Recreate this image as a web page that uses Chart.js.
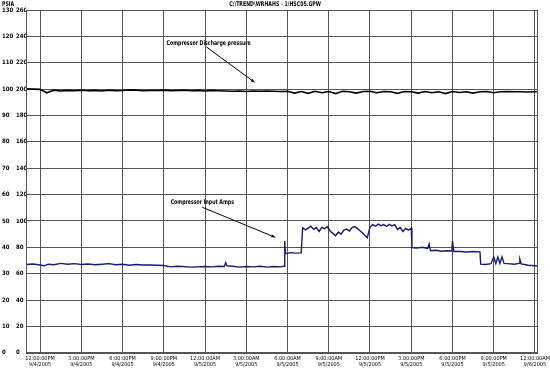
<!DOCTYPE html>
<html>
<head>
<meta charset="utf-8">
<script src="https://cdn.jsdelivr.net/npm/chart.js@4.4.1/dist/chart.umd.min.js"></script>
<style>
  html, body { margin: 0; padding: 0; background: #fff; }
</style>
</head>
<body>
<canvas id="trend" width="550" height="370"></canvas>
<script>
// hours counted from 12:00 PM on 9/4/2005
const tickHours = [0, 3, 6, 9, 12, 15, 18, 21, 24, 27, 30, 33, 36];
const tickTimes = ['12:00:00PM', '3:00:00PM', '6:00:00PM', '9:00:00PM', '12:00:00AM', '3:00:00AM',
  '6:00:00AM', '9:00:00AM', '12:00:00PM', '3:00:00PM', '6:00:00PM', '9:00:00PM', '12:00:00AM'];
const tickDates = ['9/4/2005', '9/4/2005', '9/4/2005', '9/4/2005', '9/5/2005', '9/5/2005',
  '9/5/2005', '9/5/2005', '9/5/2005', '9/5/2005', '9/5/2005', '9/5/2005', '9/6/2005'];

const pressureHours = [-1, -0.5, 0, 0.5, 1, 1.5, 2, 2.5, 3, 3.5, 4, 4.5, 5, 5.5, 6, 6.5, 7, 7.5, 8, 8.5,
  9, 9.5, 10, 10.5, 11, 11.5, 12, 12.5, 13, 13.5, 14, 14.5, 15, 15.5, 16, 16.5, 17, 17.5, 18, 18.5,
  19, 19.5, 20, 20.5, 21, 21.5, 22, 22.5, 23, 23.5, 24, 24.5, 25, 25.5, 26, 26.5, 27, 27.5, 28, 28.5,
  29, 29.5, 30, 30.5, 31, 31.5, 32, 32.5, 33, 33.5, 34, 34.5, 35, 35.5, 36, 36.22];
const pressureValues = [100.1, 100.0, 99.9, 98.6, 99.6, 99.3, 99.5, 99.4, 99.6, 99.4, 99.5, 99.3, 99.6, 99.4, 99.5, 99.7, 99.6, 99.4, 99.5, 99.5,
  99.6, 99.4, 99.5, 99.6, 99.4, 99.5, 99.3, 99.5, 99.4, 99.3, 99.2, 99.3, 99.1, 99.3, 99.2, 99.3, 99.2, 99.1, 99.2, 98.5,
  99.1, 98.4, 99.2, 98.6, 99.1, 98.3, 99.2, 99.0, 98.5, 99.1, 99.2, 98.6, 99.1, 99.0, 98.4, 99.1, 99.0, 98.5, 99.1, 98.6,
  99.0, 98.3, 99.1, 98.7, 99.0, 98.5, 99.0, 99.1, 98.6, 99.0, 99.1, 99.0, 99.0, 98.9, 99.0, 99.0];

const ampsHours = [-1, -0.5, 0, 0.3, 0.6, 1, 1.5, 2, 2.5, 3, 3.5, 4, 4.5, 5, 5.5, 6, 6.5, 7, 7.5, 8,
  9, 9.5, 10, 11, 12, 12.5, 13, 13.4, 13.5, 13.6, 14, 14.5, 15, 15.5, 16, 16.5, 17, 17.5, 17.75,
  17.8, 17.85, 18.2, 18.6, 19.0, 19.1, 19.3, 19.5, 19.7, 19.9, 20.1, 20.3, 20.5, 20.7, 20.9,
  21.1, 21.3, 21.5, 21.7, 21.9, 22.1, 22.3, 22.5, 22.7, 22.9, 23.1, 23.3, 23.5, 23.7, 23.8,
  24.0, 24.2, 24.4, 24.6, 24.8, 25.0, 25.2, 25.4, 25.6, 25.8, 26.0, 26.2, 26.4, 26.6, 26.8, 27.0,
  27.05, 27.4, 27.8, 28.2, 28.3, 28.4, 28.8, 29.2, 29.6, 29.95, 30.0, 30.1, 30.6, 31.0, 31.5, 32.0,
  32.05, 32.4, 32.8, 33.0, 33.15, 33.3, 33.45, 33.6, 33.75, 34.0, 34.5, 34.85, 34.9, 35.0, 35.5, 36.0, 36.22];
const ampsValues = [33.5, 33.7, 33.3, 33.0, 33.6, 33.4, 33.9, 33.6, 33.8, 33.5, 33.7, 33.4, 33.6, 33.8, 33.4, 33.6, 33.2, 33.5, 33.3, 33.3,
  33.1, 32.6, 32.8, 32.5, 32.7, 32.6, 32.8, 32.7, 34.2, 33.0, 32.8, 32.5, 32.7, 32.6, 32.8, 32.5, 32.7, 32.6, 32.8,
  42.4, 37.6, 38.0, 37.8, 37.9, 47.4, 46.6, 47.3, 48.0, 46.8, 47.5, 46.0, 47.6, 47.1, 47.8,
  46.2, 45.3, 44.4, 45.8, 45.0, 46.5, 46.9, 46.2, 47.5, 47.9, 47.1, 46.2, 45.2, 44.2, 43.6,
  47.7, 48.6, 48.0, 48.8, 48.2, 48.6, 47.9, 48.7, 48.1, 48.6, 46.8, 47.5, 46.0, 47.2, 46.5, 47.3,
  39.9, 39.7, 40.0, 39.6, 41.3, 38.7, 38.9, 38.5, 38.7, 38.6, 42.4, 38.4, 38.4, 38.2, 38.4, 38.3,
  33.6, 33.5, 33.8, 36.4, 33.8, 36.3, 33.9, 36.4, 33.9, 33.8, 33.6, 33.9, 35.5, 33.7, 33.2, 33.0, 32.9];

const chartTitle = 'C:\\TREND\\WRHAHS - 1\\HSC05.GPW';
const unitLabel = 'PSIA';

// text callouts, placed in data units (hours, PSIA-scale)
const callouts = [
  { text: 'Compressor Discharge pressure', tx: 9.2, ty: 117.4, from: [12.1, 116.0], to: [15.6, 102.6] },
  { text: 'Compressor Input Amps', tx: 9.5, ty: 57.2, from: [11.8, 55.2], to: [17.1, 43.8] }
];

const FONT = "'Liberation Sans Narrow', 'Arial Narrow', 'DejaVu Sans Condensed', sans-serif";

function toPoints(xs, ys) {
  return xs.map((x, i) => ({ x: x, y: ys[i] }));
}

// narrow text: the original uses a condensed face we do not have
function narrowText(ctx, text, x, y, align) {
  ctx.save();
  ctx.translate(x, y);
  ctx.scale(0.8, 1);
  ctx.textAlign = align;
  ctx.fillText(text, 0, 0);
  ctx.restore();
}

const framePlugin = {
  id: 'frame',
  afterDatasetsDraw(chart) {
    const ctx = chart.ctx;
    const area = chart.chartArea;
    const xs = chart.scales.x;
    const ys = chart.scales.y;
    ctx.save();
    ctx.strokeStyle = '#555';
    ctx.lineWidth = 1;
    ctx.strokeRect(Math.round(area.left) + 0.5, Math.round(area.top) + 0.5,
      Math.round(area.right - area.left) - 1, Math.round(area.bottom - area.top));

    ctx.fillStyle = '#000';
    ctx.font = 'bold 6.5px ' + FONT;
    ctx.textBaseline = 'middle';
    narrowText(ctx, unitLabel, 2, 4, 'left');
    narrowText(ctx, chartTitle, chart.width / 2, 4, 'center');

    ctx.strokeStyle = '#000';
    callouts.forEach((c) => {
      narrowText(ctx, c.text, xs.getPixelForValue(c.tx), ys.getPixelForValue(c.ty), 'left');
      const x1 = xs.getPixelForValue(c.from[0]), y1 = ys.getPixelForValue(c.from[1]);
      const x2 = xs.getPixelForValue(c.to[0]), y2 = ys.getPixelForValue(c.to[1]);
      ctx.beginPath();
      ctx.moveTo(x1, y1);
      ctx.lineTo(x2, y2);
      ctx.stroke();
      const a = Math.atan2(y2 - y1, x2 - x1);
      ctx.beginPath();
      ctx.moveTo(x2, y2);
      ctx.lineTo(x2 - 4 * Math.cos(a - 0.4), y2 - 4 * Math.sin(a - 0.4));
      ctx.lineTo(x2 - 4 * Math.cos(a + 0.4), y2 - 4 * Math.sin(a + 0.4));
      ctx.closePath();
      ctx.fill();
    });
    ctx.restore();
  }
};

new Chart(document.getElementById('trend'), {
  type: 'line',
  data: {
    datasets: [
      {
        label: 'Compressor Discharge pressure',
        data: toPoints(pressureHours, pressureValues),
        borderColor: '#000',
        borderWidth: 1.6,
        pointRadius: 0,
        tension: 0,
        yAxisID: 'y'
      },
      {
        label: 'Compressor Input Amps',
        data: toPoints(ampsHours, ampsValues),
        borderColor: '#1c1c6b',
        borderWidth: 1.4,
        pointRadius: 0,
        tension: 0,
        yAxisID: 'y'
      }
    ]
  },
  options: {
    responsive: false,
    animation: false,
    layout: { padding: { left: 2, right: 12, top: 10, bottom: 0 } },
    plugins: {
      legend: { display: false },
      tooltip: { enabled: false },
      title: { display: false }
    },
    scales: {
      x: {
        type: 'linear',
        min: -1.02,
        max: 36.22,
        afterBuildTicks(scale) {
          scale.ticks = tickHours.map((h) => ({ value: h }));
        },
        afterFit(scale) {
          scale.paddingRight = 12;
          scale.paddingLeft = 0;
        },
        ticks: {
          autoSkip: false,
          maxRotation: 0,
          padding: 2,
          color: '#000',
          font: { family: FONT, size: 5.5 },
          callback: (v, i) => [tickTimes[i], tickDates[i]]
        },
        grid: { color: '#555', drawTicks: false },
        border: { display: false }
      },
      y: {
        position: 'left',
        weight: 1,
        min: 0,
        max: 130,
        ticks: { stepSize: 10, crossAlign: 'far', padding: 0, color: '#000', font: { family: FONT, size: 6, weight: 'bold' } },
        grid: { color: '#555', drawTicks: false },
        border: { display: false },
        afterFit(scale) { scale.width = 14; }
      },
      y2: {
        position: 'left',
        weight: 0,
        min: 0,
        max: 260,
        ticks: { stepSize: 20, crossAlign: 'far', padding: 0, color: '#000', font: { family: FONT, size: 6, weight: 'bold' } },
        grid: { display: false, drawTicks: false },
        border: { display: false },
        afterFit(scale) { scale.width = 10; }
      }
    }
  },
  plugins: [framePlugin]
});
</script>
</body>
</html>
